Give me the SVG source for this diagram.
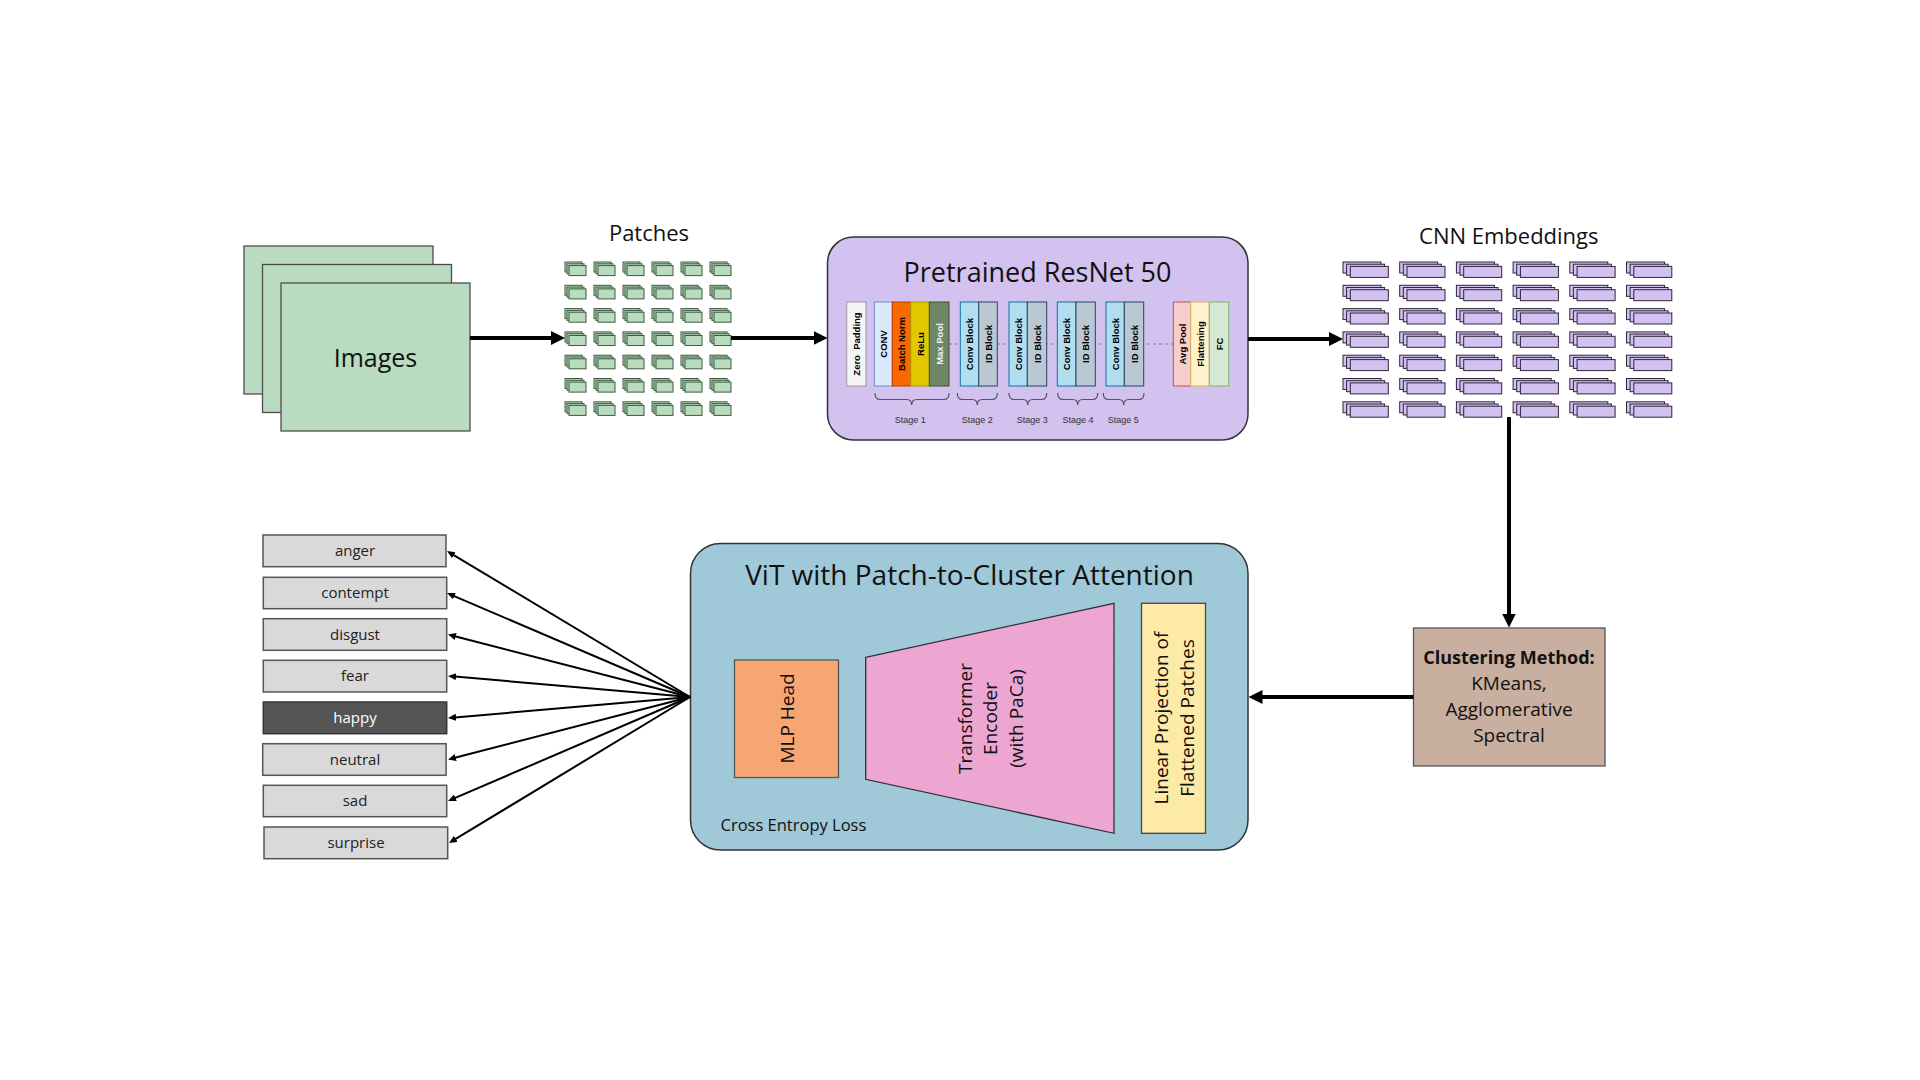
<svg xmlns="http://www.w3.org/2000/svg" xmlns:xlink="http://www.w3.org/1999/xlink" width="1920" height="1080" viewBox="0 0 1920 1080">
<style>
.sans{font-family:"Open Sans","Noto Sans",sans-serif;fill:#111;}
.hv{font-family:"Liberation Sans",Arial,sans-serif;}
.img{fill:#b9dbbf;stroke:#4d4d4d;stroke-width:1.3;}
.pt rect{fill:#b9dbbe;stroke:#3d5a41;stroke-width:1;}
.em rect{fill:#d3c1f1;stroke:#2e2638;stroke-width:1;}
.blk{stroke-width:1;}
.blab{font-family:"Liberation Sans",Arial,sans-serif;font-weight:bold;font-size:9.5px;text-anchor:middle;dominant-baseline:central;}
.stage{font-family:"Liberation Sans",Arial,sans-serif;font-size:9px;fill:#333;text-anchor:middle;}
.brace{fill:none;stroke:#555;stroke-width:1.2;}
.emo{fill:#d9d9d9;stroke:#555;stroke-width:1.5;}
.emot{font-family:"Open Sans","Noto Sans",sans-serif;font-size:15px;fill:#222;text-anchor:middle;}
.big{stroke:#000;stroke-width:4;fill:none;}
.thin{stroke:#000;stroke-width:2;fill:none;}
</style>
<defs>
<marker id="ah" markerUnits="userSpaceOnUse" markerWidth="16" markerHeight="16" refX="7" refY="7" orient="auto"><path d="M0,0 L14,7 L0,14 z" fill="#000"/></marker>
<marker id="as" markerUnits="userSpaceOnUse" markerWidth="10" markerHeight="10" refX="4" refY="3.5" orient="auto"><path d="M0,0 L8,3.5 L0,7 z" fill="#000"/></marker>
<g id="patch" class="pt"><rect x="0" y="0" width="17" height="10"/><rect x="2" y="1.8" width="17" height="10"/><rect x="4" y="3.6" width="17" height="10"/></g>
<g id="prow"><use xlink:href="#patch" x="0"/><use xlink:href="#patch" x="29"/><use xlink:href="#patch" x="58"/><use xlink:href="#patch" x="87"/><use xlink:href="#patch" x="116"/><use xlink:href="#patch" x="145"/></g>
<g id="emb" class="em"><rect x="0" y="0" width="38" height="11"/><rect x="3.6" y="2.2" width="38" height="11"/><rect x="7.3" y="4.4" width="38" height="11"/></g>
<g id="erow"><use xlink:href="#emb" x="0"/><use xlink:href="#emb" x="56.7"/><use xlink:href="#emb" x="113.4"/><use xlink:href="#emb" x="170.1"/><use xlink:href="#emb" x="226.8"/><use xlink:href="#emb" x="283.5"/></g>
</defs>
<rect width="1920" height="1080" fill="#fff"/>

<g id="images">
<rect class="img" x="244" y="246" width="189" height="148"/>
<rect class="img" x="262.5" y="264.5" width="189" height="148"/>
<rect class="img" x="281" y="283" width="189" height="148"/>
<text class="sans" x="375.5" y="366.5" font-size="25" text-anchor="middle">Images</text>
</g>

<g id="patches">
<text class="sans" x="649" y="240.5" font-size="22" text-anchor="middle">Patches</text>
<use xlink:href="#prow" x="565" y="262"/>
<use xlink:href="#prow" x="565" y="285.3"/>
<use xlink:href="#prow" x="565" y="308.6"/>
<use xlink:href="#prow" x="565" y="331.9"/>
<use xlink:href="#prow" x="565" y="355.2"/>
<use xlink:href="#prow" x="565" y="378.5"/>
<use xlink:href="#prow" x="565" y="401.8"/>
</g>

<g id="resnet">
<rect x="827.5" y="237" width="420.5" height="203" rx="26" fill="#d3c1f0" stroke="#333" stroke-width="1.5"/>
<text class="sans" x="1037.5" y="281.5" font-size="27" text-anchor="middle">Pretrained ResNet 50</text>
<line x1="949" y1="344" x2="1173" y2="344" stroke="#8a7c9c" stroke-width="1.2" stroke-dasharray="3 3"/>
<g class="blk">
<rect x="846.7" y="302" width="19.3" height="84" fill="#f5f5f5" stroke="#9a9a9a"/>
<rect x="874.3" y="302" width="18" height="84" fill="#dae8fc" stroke="#6c8ebf"/>
<rect x="892.3" y="302" width="18.4" height="84" fill="#fa6800" stroke="#c73500"/>
<rect x="910.7" y="302" width="18.6" height="84" fill="#e3c800" stroke="#b09500"/>
<rect x="929.3" y="302" width="19.7" height="84" fill="#6d8764" stroke="#3a5431"/>
<rect x="960.3" y="302" width="18.4" height="84" fill="#b1ddf0" stroke="#10739e"/>
<rect x="978.7" y="302" width="18.6" height="84" fill="#bac8d3" stroke="#23445d"/>
<rect x="1009" y="302" width="18.3" height="84" fill="#b1ddf0" stroke="#10739e"/>
<rect x="1027.3" y="302" width="19.4" height="84" fill="#bac8d3" stroke="#23445d"/>
<rect x="1057.3" y="302" width="18.7" height="84" fill="#b1ddf0" stroke="#10739e"/>
<rect x="1076" y="302" width="19.3" height="84" fill="#bac8d3" stroke="#23445d"/>
<rect x="1106" y="302" width="18.3" height="84" fill="#b1ddf0" stroke="#10739e"/>
<rect x="1124.3" y="302" width="19.4" height="84" fill="#bac8d3" stroke="#23445d"/>
<rect x="1173.3" y="302" width="17.4" height="84" fill="#f8cecc" stroke="#b85450"/>
<rect x="1190.7" y="302" width="18.6" height="84" fill="#fff2cc" stroke="#d6b656"/>
<rect x="1209.3" y="302" width="19.4" height="84" fill="#d5e8d4" stroke="#82b366"/>
</g>
<g class="blab">
<text transform="translate(856.4,344) rotate(-90)" xml:space="preserve">Zero  Padding</text>
<text transform="translate(883.3,344) rotate(-90)">CONV</text>
<text transform="translate(901.5,344) rotate(-90)">Batch Norm</text>
<text transform="translate(920,344) rotate(-90)">ReLu</text>
<text transform="translate(939.2,344) rotate(-90)" fill="#f2f2f2">Max Pool</text>
<text transform="translate(969.5,344) rotate(-90)">Conv Block</text>
<text transform="translate(988,344) rotate(-90)">ID Block</text>
<text transform="translate(1018.2,344) rotate(-90)">Conv Block</text>
<text transform="translate(1037,344) rotate(-90)">ID Block</text>
<text transform="translate(1066.7,344) rotate(-90)">Conv Block</text>
<text transform="translate(1085.7,344) rotate(-90)">ID Block</text>
<text transform="translate(1115.2,344) rotate(-90)">Conv Block</text>
<text transform="translate(1134,344) rotate(-90)">ID Block</text>
<text transform="translate(1182,344) rotate(-90)">Avg Pool</text>
<text transform="translate(1200,344) rotate(-90)">Flattening</text>
<text transform="translate(1219,344) rotate(-90)">FC</text>
</g>
<path class="brace" d="M875,393 Q875,399.5 880,399.5 L906.7,399.5 Q911.7,399.5 911.7,405 Q911.7,399.5 916.7,399.5 L944,399.5 Q949,399.5 949,393"/>
<path class="brace" d="M957.3,393 Q957.3,399.5 962.3,399.5 L972.3,399.5 Q977.3,399.5 977.3,405 Q977.3,399.5 982.3,399.5 L992.3,399.5 Q997.3,399.5 997.3,393"/>
<path class="brace" d="M1009,393 Q1009,399.5 1014,399.5 L1022.8,399.5 Q1027.8,399.5 1027.8,405 Q1027.8,399.5 1032.8,399.5 L1041.7,399.5 Q1046.7,399.5 1046.7,393"/>
<path class="brace" d="M1057.7,393 Q1057.7,399.5 1062.7,399.5 L1072.7,399.5 Q1077.7,399.5 1077.7,405 Q1077.7,399.5 1082.7,399.5 L1092.7,399.5 Q1097.7,399.5 1097.7,393"/>
<path class="brace" d="M1103.3,393 Q1103.3,399.5 1108.3,399.5 L1118.7,399.5 Q1123.7,399.5 1123.7,405 Q1123.7,399.5 1128.7,399.5 L1139,399.5 Q1144,399.5 1144,393"/>
<text class="stage" x="910.3" y="422.5">Stage 1</text>
<text class="stage" x="977.3" y="422.5">Stage 2</text>
<text class="stage" x="1032.3" y="422.5">Stage 3</text>
<text class="stage" x="1078" y="422.5">Stage 4</text>
<text class="stage" x="1123.3" y="422.5">Stage 5</text>
</g>

<g id="cnn-embeddings">
<text class="sans" x="1508.8" y="244" font-size="22" text-anchor="middle">CNN Embeddings</text>
<use xlink:href="#erow" x="1343" y="262"/>
<use xlink:href="#erow" x="1343" y="285.3"/>
<use xlink:href="#erow" x="1343" y="308.6"/>
<use xlink:href="#erow" x="1343" y="331.9"/>
<use xlink:href="#erow" x="1343" y="355.2"/>
<use xlink:href="#erow" x="1343" y="378.5"/>
<use xlink:href="#erow" x="1343" y="401.8"/>
</g>

<g id="clustering">
<rect x="1413.5" y="628" width="191.5" height="138" fill="#c9af9f" stroke="#555" stroke-width="1.3"/>
<text class="sans" x="1509" y="663.5" font-size="18" font-weight="bold" text-anchor="middle">Clustering Method:</text>
<text class="sans" x="1509" y="690" font-size="19" text-anchor="middle">KMeans,</text>
<text class="sans" x="1509" y="715.5" font-size="19" text-anchor="middle">Agglomerative</text>
<text class="sans" x="1509" y="741.5" font-size="19" text-anchor="middle">Spectral</text>
</g>

<g id="vit">
<rect x="690.5" y="543.5" width="557.5" height="306.5" rx="30" fill="#9fc8d8" stroke="#333" stroke-width="1.5"/>
<text class="sans" x="969.5" y="585" font-size="28" text-anchor="middle">ViT with Patch-to-Cluster Attention</text>
<g id="mlp-head">
<rect x="734.5" y="660" width="104" height="117.5" fill="#f5a672" stroke="#555" stroke-width="1.3"/>
<text class="sans" transform="translate(786.5,718.5) rotate(-90)" font-size="19" text-anchor="middle" dominant-baseline="central">MLP Head</text>
</g>
<g id="transformer-encoder">
<path d="M865.7,657.3 L1114,603.3 L1114,833.3 L865.7,779.3 Z" fill="#eda6d2" stroke="#333" stroke-width="1.3"/>
<text class="sans" transform="translate(990,718.5) rotate(-90)" font-size="19" text-anchor="middle" dominant-baseline="central"><tspan x="0" dy="-25.5">Transformer</tspan><tspan x="0" dy="25.5">Encoder</tspan><tspan x="0" dy="25.5">(with PaCa)</tspan></text>
</g>
<g id="linear-projection">
<rect x="1141.5" y="603.3" width="64" height="230" fill="#feeaa7" stroke="#444" stroke-width="1.3"/>
<text class="sans" transform="translate(1174,718) rotate(-90)" font-size="19" text-anchor="middle" dominant-baseline="central"><tspan x="0" dy="-12.8">Linear Projection of</tspan><tspan x="0" dy="25.6">Flattened Patches</tspan></text>
</g>
<text class="sans" x="720.5" y="830.5" font-size="16.5" fill="#222">Cross Entropy Loss</text>
</g>

<g id="label-anger"><rect class="emo" x="263" y="535" width="183" height="31.7"/><text class="emot" x="355" y="556">anger</text></g>
<g id="label-contempt"><rect class="emo" x="263.3" y="577.3" width="183.4" height="31.4"/><text class="emot" x="355" y="598">contempt</text></g>
<g id="label-disgust"><rect class="emo" x="263.3" y="618.7" width="183.4" height="31.6"/><text class="emot" x="355" y="639.5">disgust</text></g>
<g id="label-fear"><rect class="emo" x="263.3" y="660.3" width="183.4" height="31.7"/><text class="emot" x="355" y="681">fear</text></g>
<g id="label-happy"><rect x="263.3" y="702" width="183.4" height="31.7" fill="#555" stroke="#333" stroke-width="1.5"/><text class="emot" x="355" y="723" fill="#fff" style="fill:#fff">happy</text></g>
<g id="label-neutral"><rect class="emo" x="262.7" y="743.7" width="183.4" height="31.6"/><text class="emot" x="355" y="764.5">neutral</text></g>
<g id="label-sad"><rect class="emo" x="263.3" y="785.3" width="183.4" height="31.4"/><text class="emot" x="355" y="806">sad</text></g>
<g id="label-surprise"><rect class="emo" x="264" y="827" width="183.7" height="31.7"/><text class="emot" x="356" y="848">surprise</text></g>

<g id="connectors">
<line class="big" x1="470" y1="338" x2="558" y2="338" marker-end="url(#ah)"/>
<line class="big" x1="731" y1="338" x2="820.5" y2="338" marker-end="url(#ah)"/>
<line class="big" x1="1248" y1="339" x2="1336" y2="339" marker-end="url(#ah)"/>
<line class="big" x1="1509" y1="417" x2="1509" y2="620.5" marker-end="url(#ah)"/>
<line class="big" x1="1413.5" y1="697" x2="1255.5" y2="697" marker-end="url(#ah)"/>
<line class="thin" x1="690" y1="697" x2="450.4" y2="553.1" marker-end="url(#as)"/>
<line class="thin" x1="690" y1="697" x2="450.7" y2="594.6" marker-end="url(#as)"/>
<line class="thin" x1="690" y1="697" x2="451.9" y2="635.5" marker-end="url(#as)"/>
<line class="thin" x1="690" y1="697" x2="452" y2="676.3" marker-end="url(#as)"/>
<line class="thin" x1="690" y1="697" x2="452" y2="717.7" marker-end="url(#as)"/>
<line class="thin" x1="690" y1="697" x2="451.9" y2="758.5" marker-end="url(#as)"/>
<line class="thin" x1="690" y1="697" x2="451.7" y2="799.4" marker-end="url(#as)"/>
<line class="thin" x1="690" y1="697" x2="452.4" y2="840.9" marker-end="url(#as)"/>
</g>
</svg>
